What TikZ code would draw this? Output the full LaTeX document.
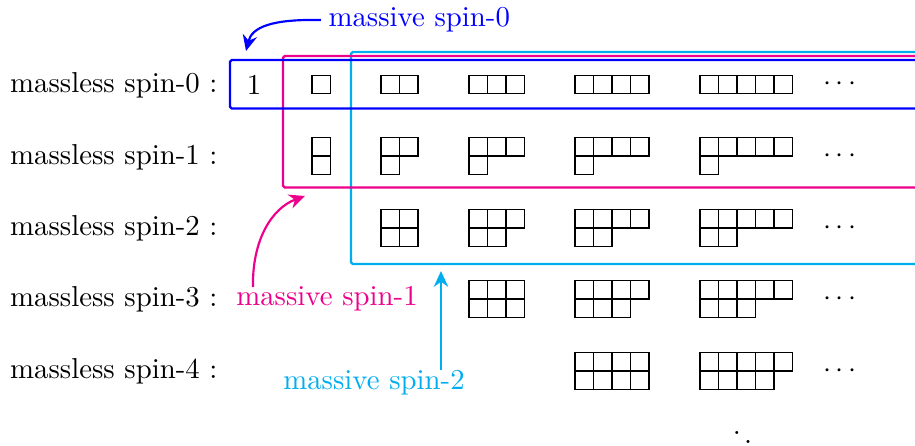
\documentclass[tikz,border=0pt]{standalone}
\usetikzlibrary{arrows.meta}
\definecolor{mblue}{RGB}{0,0,255}
\definecolor{mpink}{RGB}{236,0,140}
\definecolor{mcyan}{RGB}{0,174,239}
\newcommand{\ydiag}[4]{%
  \begin{scope}[shift={(#1,#2)}]
    \ifnum#4=0
      \foreach \i in {1,...,#3} \draw[cell] ({(\i-1)*18.5},-9.25) rectangle ++(18.5,18.5);
    \else
      \foreach \i in {1,...,#3} \draw[cell] ({(\i-1)*18.5},-18.5) rectangle ++(18.5,18.5);
      \foreach \i in {1,...,#4} \draw[cell] ({(\i-1)*18.5},0) rectangle ++(18.5,18.5);
    \fi
  \end{scope}}
\begin{document}
\begin{tikzpicture}[x=0.347pt,y=-0.347pt,
  cell/.style={draw=black,line width=0.45pt},
  lbl/.style={anchor=east,inner sep=0pt},
  grp/.style={line width=0.75pt,rounded corners=0.6pt},
  arr/.style={line width=0.75pt,-{Stealth[length=5.5pt,width=5pt]}}]
\useasboundingbox (0,0) rectangle (915,445);
\clip (0,0) rectangle (915,445);
% row labels
\node[lbl] (l0) at (218,85) {massless spin-0 :};
\node[lbl] (l1) at (218,157) {massless spin-1 :};
\node[lbl] (l2) at (218,228) {massless spin-2 :};
\node[lbl] (l3) at (218,299) {massless spin-3 :};
\node[lbl] (l4) at (218,371) {massless spin-4 :};
% group boxes
\draw[grp,mcyan] (930,52) -- (351,52) -- (351,264) -- (930,264);
\draw[grp,mpink] (930,56) -- (283,56) -- (283,187.5) -- (930,187.5);
\draw[grp,mblue] (930,60) -- (230,60) -- (230,108.5) -- (930,108.5);
% entries
\node (one) at (254,85) {$1$};
\ydiag{312}{84.5}{1}{0}
\ydiag{381}{84.5}{2}{0}
\ydiag{469}{84.5}{3}{0}
\ydiag{575}{84.5}{4}{0}
\ydiag{700}{84.5}{5}{0}
\ydiag{312}{156}{1}{1}
\ydiag{381}{156}{2}{1}
\ydiag{469}{156}{3}{1}
\ydiag{575}{156}{4}{1}
\ydiag{700}{156}{5}{1}
\ydiag{381}{228}{2}{2}
\ydiag{469}{228}{3}{2}
\ydiag{575}{228}{4}{2}
\ydiag{700}{228}{5}{2}
\ydiag{469}{299}{3}{3}
\ydiag{575}{299}{4}{3}
\ydiag{700}{299}{5}{3}
\ydiag{575}{371}{4}{4}
\ydiag{700}{371}{5}{4}
\foreach \r/\yy in {0/84,1/156,2/228,3/299,4/371}
  \node (d\r) at (840,\yy) {$\cdots$};
\node (dd) at (748,433) {$\ddots$};
% massive labels and arrows
\node[mblue,anchor=west,inner sep=0pt] (m0) at (328,20) {massive spin-0};
\coordinate (s0) at (321,20);
\coordinate (t0) at (246,51);
\draw[arr,mblue] (s0) .. controls (272,19) and (252,27) .. (t0);
\node[mpink,inner sep=0pt] (m1) at (327,299) {massive spin-1};
\coordinate (s1) at (253,287);
\coordinate (t1) at (305,196);
\draw[arr,mpink] (s1) .. controls (252,240) and (272,208) .. (t1);
\node[mcyan,inner sep=0pt] (m2) at (374,383) {massive spin-2};
\coordinate (s2) at (441,370);
\coordinate (t2) at (441,271);
\draw[arr,mcyan] (s2) -- (t2);
\end{tikzpicture}
\end{document}
